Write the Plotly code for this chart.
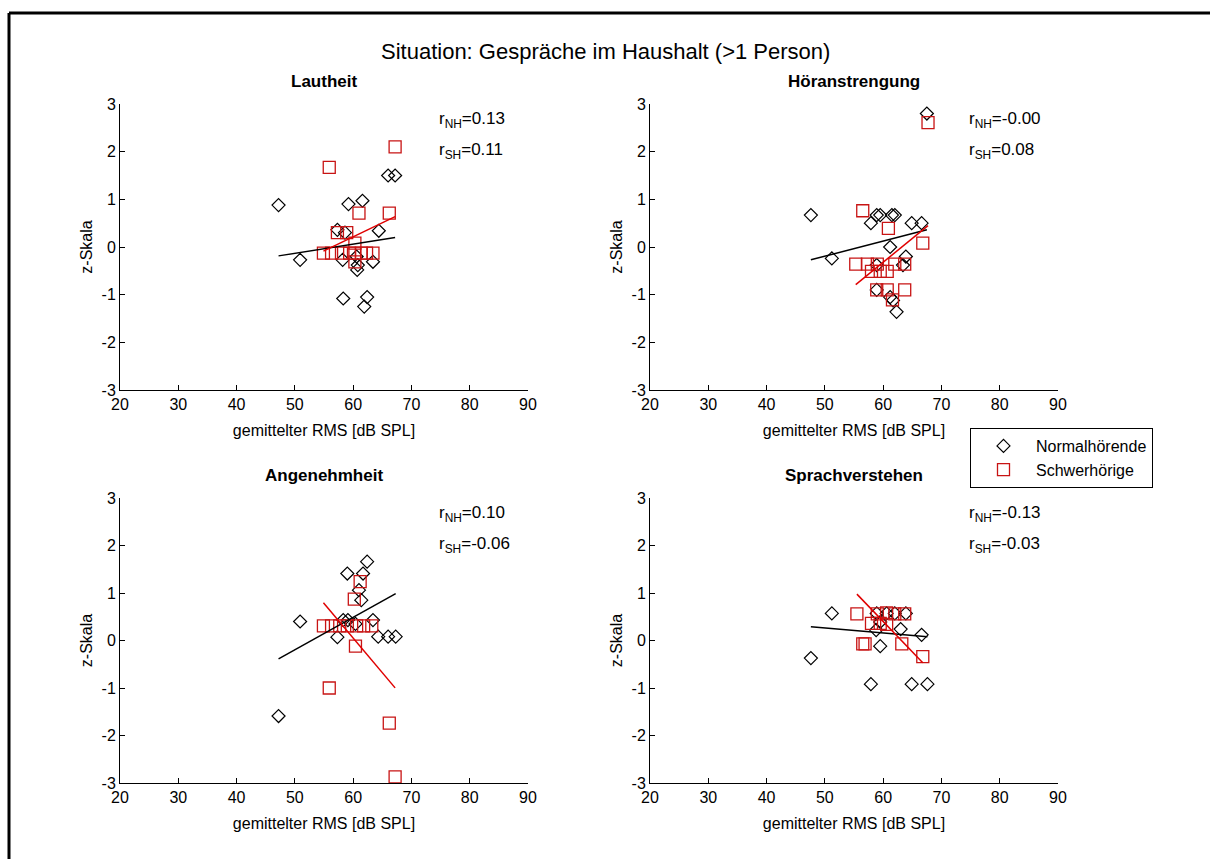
import numpy as np
import plotly.graph_objects as go

# ---- data: mean RMS level [dB SPL] vs. z-scored rating, per rating scale ----
panel_titles = ["Lautheit", "Höranstrengung", "Angenehmheit", "Sprachverstehen"]

laut_nh_x = [47.2, 50.9, 57.3, 58.2, 58.3, 58.6, 59.2, 60.6, 60.8, 60.7, 61.6, 61.9, 62.4, 63.4, 64.4, 66.0, 67.2]
laut_nh_y = [0.88, -0.27, 0.36, -0.27, -1.08, 0.30, 0.90, -0.20, -0.38, -0.48, 0.97, -1.25, -1.05, -0.31, 0.34, 1.50, 1.50]
laut_sh_x = [55.9, 67.2, 61.0, 66.2, 57.3, 58.9, 60.3, 54.9, 56.3, 58.0, 59.4, 60.3, 61.4, 62.3, 63.4, 60.3]
laut_sh_y = [1.67, 2.10, 0.71, 0.71, 0.30, 0.30, 0.08, -0.13, -0.13, -0.13, -0.13, -0.13, -0.13, -0.13, -0.13, -0.31]

hoer_nh_x = [47.6, 51.2, 67.5, 57.9, 58.9, 59.5, 61.5, 62.0, 64.9, 66.6, 61.2, 63.9, 58.9, 63.4, 58.9, 61.2, 61.7, 62.3]
hoer_nh_y = [0.67, -0.24, 2.80, 0.50, 0.67, 0.67, 0.67, 0.67, 0.50, 0.50, 0.00, -0.20, -0.38, -0.38, -0.90, -1.05, -1.12, -1.36]
hoer_sh_x = [67.7, 56.5, 60.9, 66.8, 55.3, 57.3, 59.0, 62.0, 63.7, 58.0, 59.5, 60.7, 58.9, 60.7, 63.7, 61.6]
hoer_sh_y = [2.61, 0.76, 0.39, 0.08, -0.36, -0.36, -0.36, -0.36, -0.36, -0.51, -0.51, -0.51, -0.90, -0.90, -0.90, -1.11]

ang_nh_x = [47.2, 50.9, 62.4, 59.0, 61.7, 61.0, 57.3, 58.3, 59.1, 63.4, 64.3, 66.0, 67.3, 61.4, 60.4]
ang_nh_y = [-1.59, 0.40, 1.66, 1.41, 1.41, 1.06, 0.07, 0.43, 0.43, 0.43, 0.08, 0.08, 0.08, 0.85, 0.35]
ang_sh_x = [61.2, 60.2, 54.9, 56.3, 57.7, 59.0, 60.6, 61.8, 63.2, 60.4, 55.9, 66.2, 67.2]
ang_sh_y = [1.24, 0.87, 0.31, 0.31, 0.31, 0.31, 0.31, 0.31, 0.31, -0.12, -1.00, -1.74, -2.87]

spr_nh_x = [47.6, 51.2, 59.5, 57.9, 64.9, 67.6, 66.6, 63.0, 58.8, 58.9, 60.6, 62.0, 63.9, 59.5]
spr_nh_y = [-0.37, 0.57, -0.12, -0.92, -0.92, -0.92, 0.12, 0.24, 0.22, 0.57, 0.57, 0.57, 0.57, 0.39]
spr_sh_x = [55.5, 59.0, 60.6, 62.0, 63.7, 58.0, 59.5, 60.6, 56.5, 56.9, 63.2, 66.8]
spr_sh_y = [0.56, 0.56, 0.58, 0.56, 0.56, 0.36, 0.36, 0.34, -0.07, -0.07, -0.07, -0.34]

# linear fit coefficients (intercept, slope) per panel and group
fit_nh = [(-1.097, 0.0193), (-1.778, 0.0317), (-3.61, 0.0683), (0.79, -0.0105)]
fit_sh = [(-3.32, 0.0589), (-6.32, 0.100), (8.80, -0.1458), (8.08, -0.128)]

# correlation coefficients shown in each panel
r_nh = ["0.13", "-0.00", "0.10", "-0.13"]
r_sh = ["0.11", "0.08", "-0.06", "-0.03"]

nh_x = [laut_nh_x, hoer_nh_x, ang_nh_x, spr_nh_x]
nh_y = [laut_nh_y, hoer_nh_y, ang_nh_y, spr_nh_y]
sh_x = [laut_sh_x, hoer_sh_x, ang_sh_x, spr_sh_x]
sh_y = [laut_sh_y, hoer_sh_y, ang_sh_y, spr_sh_y]

x_ticks = [20, 30, 40, 50, 60, 70, 80, 90]
y_ticks = [-3, -2, -1, 0, 1, 2, 3]
y_tick_text = ["-3", "-2", "-1", "0", "1", "2", "3"]

# ---- layout geometry (pixels of a 1210 x 859 canvas) ----
W, H = 1210, 859
col_px = [(120, 528), (650, 1058)]
row_px = [(104, 390), (498, 783)]

FONT = "Liberation Sans, Arial, sans-serif"
RED_MK = "#c81414"
RED_LN = "#e00000"

fig = go.Figure()
annotations = []
layout_axes = {}

for i in range(4):
    r, c = divmod(i, 2)
    xa = "x" if i == 0 else f"x{i+1}"
    ya = "y" if i == 0 else f"y{i+1}"
    xkey = "xaxis" if i == 0 else f"xaxis{i+1}"
    ykey = "yaxis" if i == 0 else f"yaxis{i+1}"
    x0, x1 = col_px[c]
    y0, y1 = row_px[r]

    fig.add_trace(go.Scatter(
        x=nh_x[i], y=nh_y[i], mode="markers", xaxis=xa, yaxis=ya,
        name="Normalhörende", showlegend=(i == 0),
        marker=dict(symbol="diamond-open", size=10, color="black", line=dict(width=1.2, color="black")),
    ))
    fig.add_trace(go.Scatter(
        x=sh_x[i], y=sh_y[i], mode="markers", xaxis=xa, yaxis=ya,
        name="Schwerhörige", showlegend=(i == 0),
        marker=dict(symbol="square-open", size=12, color=RED_MK, line=dict(width=1.3, color=RED_MK)),
    ))
    # regression lines over each group's level range
    b0, b1 = fit_nh[i]
    xs = np.array([min(nh_x[i]), max(nh_x[i])])
    fig.add_trace(go.Scatter(x=xs, y=b0 + b1 * xs, mode="lines", xaxis=xa, yaxis=ya,
                             showlegend=False, line=dict(color="black", width=1.5), hoverinfo="skip"))
    b0, b1 = fit_sh[i]
    xs = np.array([min(sh_x[i]), max(sh_x[i])])
    fig.add_trace(go.Scatter(x=xs, y=b0 + b1 * xs, mode="lines", xaxis=xa, yaxis=ya,
                             showlegend=False, line=dict(color=RED_LN, width=1.5), hoverinfo="skip"))

    axis_common = dict(showline=True, linecolor="black", linewidth=1, ticks="inside", ticklen=5,
                       tickcolor="black", tickwidth=1, showgrid=False, zeroline=False, mirror=False,
                       automargin=False, tickfont=dict(family=FONT, size=16, color="black"))
    layout_axes[xkey] = dict(axis_common, domain=[x0 / W, x1 / W], range=[20, 90], tickvals=x_ticks,
                             anchor=ya, ticklabelstandoff=0,
                             title=dict(text="gemittelter RMS [dB SPL]", standoff=12,
                                        font=dict(family=FONT, size=16, color="black")))
    layout_axes[ykey] = dict(axis_common, domain=[1 - y1 / H, 1 - y0 / H], range=[-3, 3],
                             tickvals=y_ticks, ticktext=y_tick_text, anchor=xa,
                             title=dict(text="z-Skala", standoff=4,
                                        font=dict(family=FONT, size=16, color="black")))

    # panel title
    annotations.append(dict(text=f"<b>{panel_titles[i]}</b>", x=(x0 + x1) / 2 / W, y=1 - (y0 - 22) / H,
                            xref="paper", yref="paper", showarrow=False, xanchor="center", yanchor="middle",
                            font=dict(family=FONT, size=17, color="black")))
    # correlation labels
    annotations.append(dict(text=f"r<sub>NH</sub>=" + r_nh[i], x=74.4, y=2.67, xref=xa, yref=ya,
                            showarrow=False, xanchor="left", yanchor="middle",
                            font=dict(family=FONT, size=17, color="black")))
    annotations.append(dict(text=f"r<sub>SH</sub>=" + r_sh[i], x=74.4, y=2.01, xref=xa, yref=ya,
                            showarrow=False, xanchor="left", yanchor="middle",
                            font=dict(family=FONT, size=17, color="black")))

annotations.append(dict(text="Situation: Gespräche im Haushalt (>1 Person)", x=605 / W, y=1 - 52 / H,
                        xref="paper", yref="paper", showarrow=False, xanchor="center", yanchor="middle",
                        font=dict(family=FONT, size=22, color="black")))

fig.update_layout(
    width=W, height=H, autosize=False, margin=dict(l=0, r=0, t=0, b=0, pad=0, autoexpand=False),
    paper_bgcolor="white", plot_bgcolor="white",
    font=dict(family=FONT, color="black"),
    annotations=annotations,
    legend=dict(x=970 / W, y=1 - 428 / H, xanchor="left", yanchor="top",
                bordercolor="black", borderwidth=1, bgcolor="white",
                font=dict(family=FONT, size=16, color="black"), itemwidth=55),
    shapes=[
        dict(type="line", xref="paper", yref="paper", x0=9 / W, x1=1.0, y0=1 - 13 / H, y1=1 - 13 / H,
             line=dict(color="black", width=3)),
        dict(type="line", xref="paper", yref="paper", x0=9 / W, x1=9 / W, y0=0.0, y1=1 - 13 / H,
             line=dict(color="black", width=3)),
    ],
    **layout_axes,
)

fig.write_html("out.html", config={"responsive": False})
